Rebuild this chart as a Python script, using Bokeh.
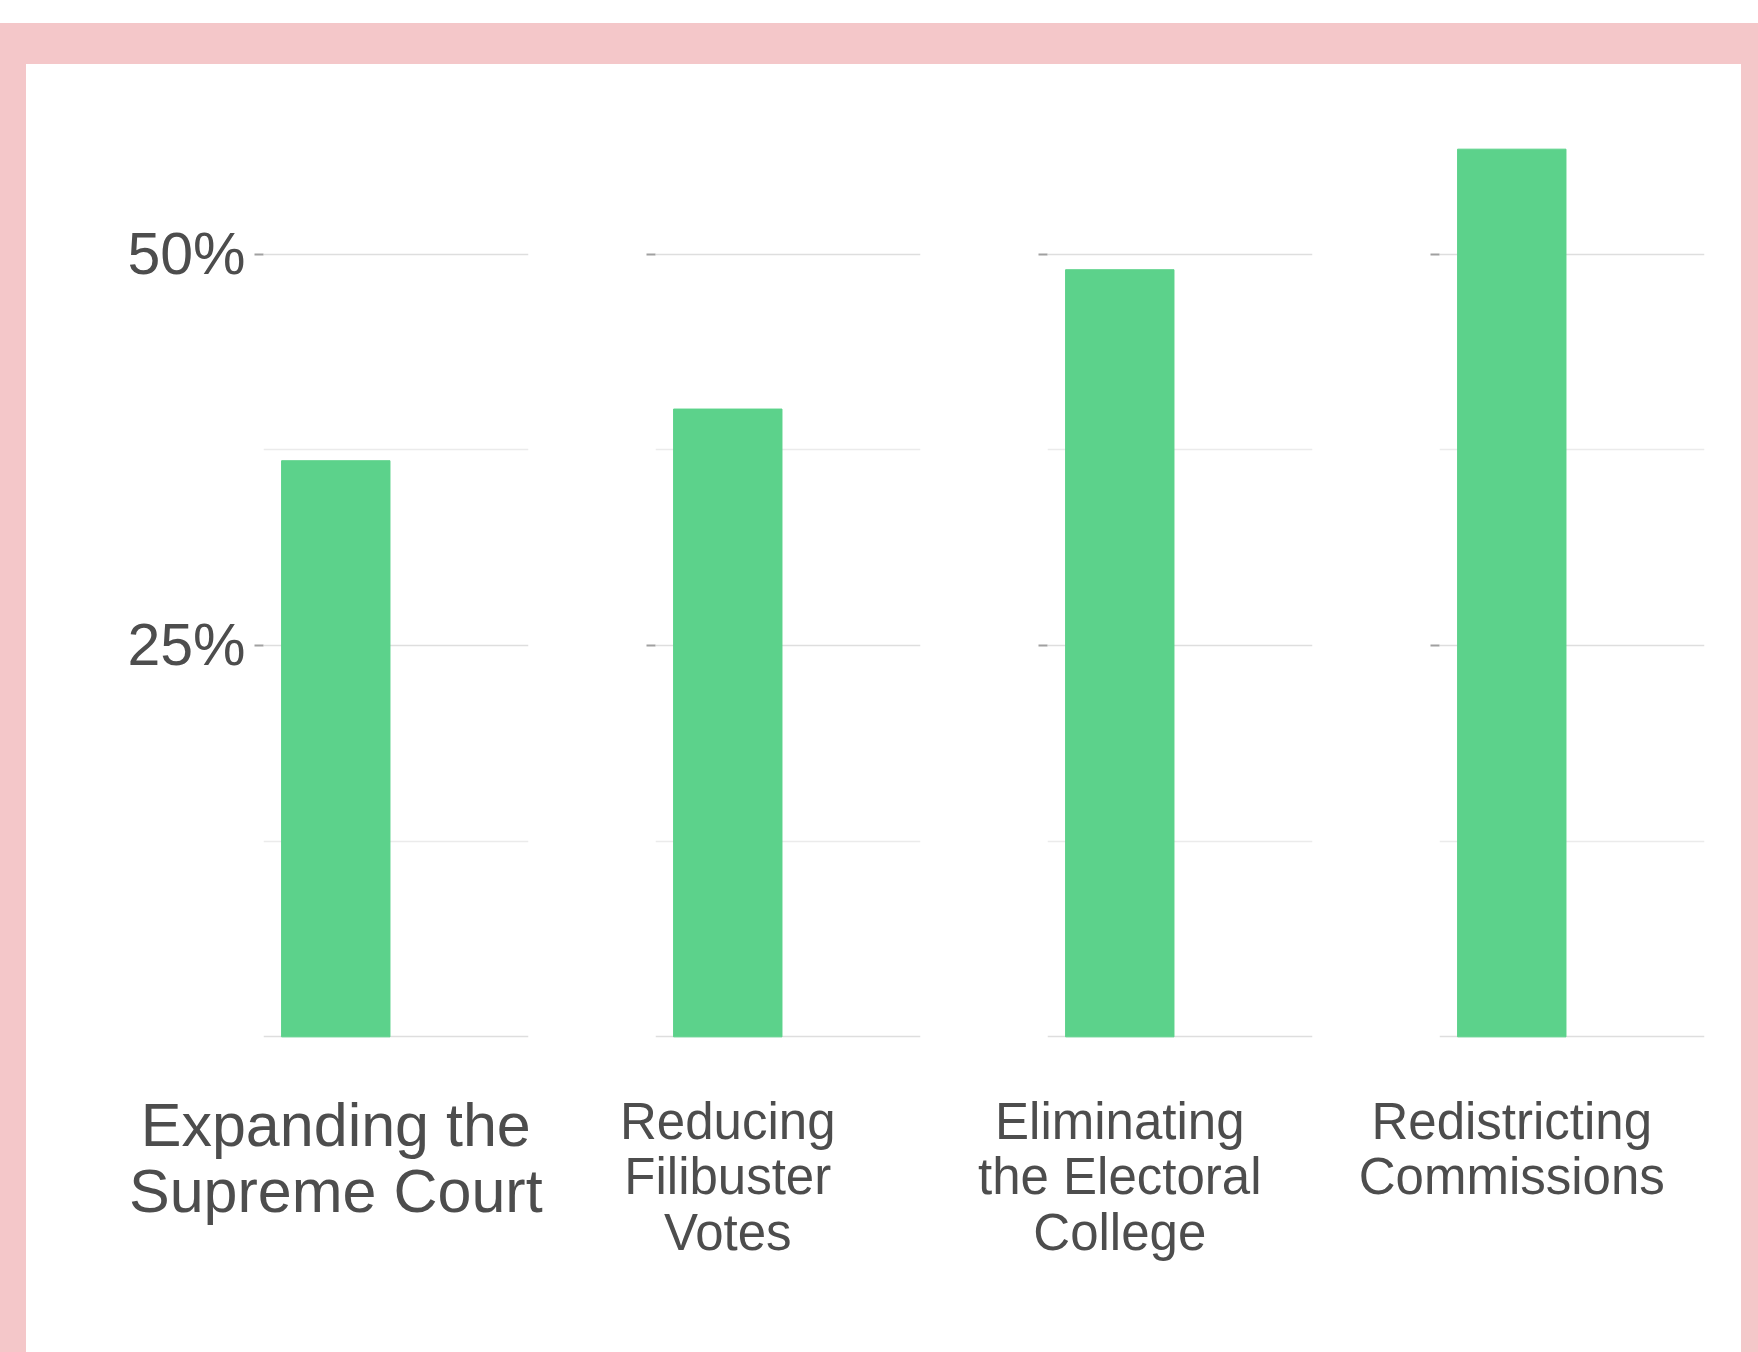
from bokeh.plotting import figure
from bokeh.layouts import row, column
from bokeh.models import Range1d, FixedTicker, Div
from bokeh.embed import file_html
from bokeh.resources import INLINE

# ---- data ----
categories = [
    "Expanding the\nSupreme Court",
    "Reducing\nFilibuster\nVotes",
    "Eliminating\nthe Electoral\nCollege",
    "Redistricting\nCommissions",
]
support_pct = [36.8, 40.1, 49.0, 56.7]
y_tick_values = [25, 50]
y_tick_labels = ["25%", "50%"]
grid_major = [0, 25, 50]
grid_minor = [12.5, 37.5]

# ---- style ----
PINK = "#F4C7C9"
GREEN = "#5CD28B"
TEXT = "#4D4D4D"
FONT = "Liberation Sans"

FRAME_W = 265
FRAME_H = 955
BORDER_TOP = 33
ROW_H = 1288
BORDER_BOTTOM = ROW_H - BORDER_TOP - FRAME_H

lefts = [237, 85, 85, 85]
rights = [42, 42, 42, 37]
label_sizes = ["61px", "51px", "51px", "51px"]
label_standoffs = [38, 40, 40, 40]


def band(w, h, color):
    return Div(width=w, height=h, text="", margin=0,
               styles={"background-color": color})


panels = []
for i, (cat, val) in enumerate(zip(categories, support_pct)):
    w = lefts[i] + FRAME_W + rights[i]
    p = figure(width=w, height=ROW_H, toolbar_location=None, output_backend="svg",
               x_range=Range1d(-0.3, 0.8), y_range=Range1d(-1, 60),
               min_border_left=lefts[i], min_border_right=rights[i],
               min_border_top=BORDER_TOP, min_border_bottom=BORDER_BOTTOM,
               outline_line_color=None, background_fill_color="white",
               border_fill_color="white")
    p.vbar(x=[0], top=[val], bottom=0, width=0.45, fill_color=GREEN,
           line_color=GREEN)

    # grid
    p.xgrid.visible = False
    p.ygrid.ticker = FixedTicker(ticks=grid_major, minor_ticks=grid_minor)
    p.ygrid.grid_line_color = "#DEDEDE"
    p.ygrid.grid_line_width = 1.5
    p.ygrid.minor_grid_line_color = "#EBEBEB"
    p.ygrid.minor_grid_line_width = 1.5

    # y axis
    ya = p.yaxis[0]
    ya.ticker = FixedTicker(ticks=y_tick_values)
    ya.axis_line_color = None
    ya.major_tick_out = 9
    ya.major_tick_in = 0
    ya.major_tick_line_color = "#A0A0A0"
    ya.major_tick_line_width = 2
    ya.minor_tick_line_color = None
    ya.major_label_standoff = 9
    ya.major_label_text_color = TEXT
    ya.major_label_text_font = FONT
    ya.major_label_text_font_size = "59px"
    if i == 0:
        ya.major_label_overrides = {v: t for v, t in zip(y_tick_values, y_tick_labels)}
    else:
        ya.major_label_overrides = {v: "" for v in y_tick_values}

    # x axis (category label)
    xa = p.xaxis[0]
    xa.ticker = FixedTicker(ticks=[0])
    xa.major_label_overrides = {0: cat}
    xa.axis_line_color = None
    xa.major_tick_line_color = None
    xa.minor_tick_line_color = None
    xa.major_tick_out = 0
    xa.major_tick_in = 0
    xa.major_label_standoff = label_standoffs[i]
    xa.major_label_text_color = TEXT
    xa.major_label_text_font = FONT
    xa.major_label_text_font_size = label_sizes[i]
    xa.major_label_text_line_height = 0.98

    panels.append(p)

TOTAL_W = 1758
left_band = band(26, ROW_H, PINK)
right_band = band(17, ROW_H, PINK)
top_band = band(TOTAL_W, 41, PINK)
top_white = band(TOTAL_W, 23, "white")

layout = column(top_white, top_band, row(left_band, *panels, right_band))

open("out.html", "w").write(file_html(layout, INLINE))
